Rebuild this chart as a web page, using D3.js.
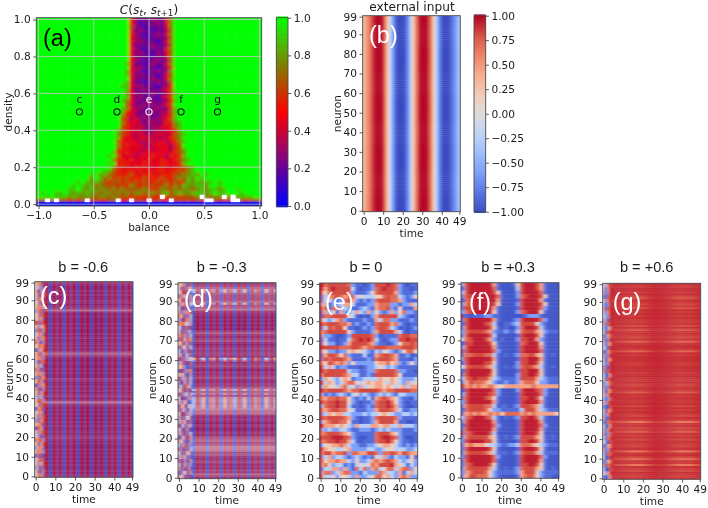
<!DOCTYPE html>
<html><head><meta charset="utf-8">
<script src="https://cdn.jsdelivr.net/npm/d3@7"></script>
<style>
html,body{margin:0;padding:0;background:#fff}
svg{display:block;filter:blur(0.35px)}
text{font-family:"DejaVu Sans";fill:#1c1c1c}
.tick text{font-size:10.6px}
.tick line{stroke:#333;stroke-width:.8}
.lab{font-size:10.6px;text-anchor:middle}
.cap{font-family:"Liberation Sans";font-size:14.6px;text-anchor:middle}
.big{font-family:"Liberation Sans";font-size:23.5px}
</style></head><body>
<svg id="c" width="708" height="508"></svg>
<script>
// ---------- panel (a): C(s_t, s_{t+1}); digit/9 = value, "." = no data; rows top (1.00) to bottom (0.00), centred on balance 0
const aRows=[
"9953222322579","9953122232479","9963212222479","9952322122369","9953212232479","9943221222369",
"9953322212479","9942222322369","9953212222579","9942322132469","9953221222479","9943222232369",
"9852212322479","9943322212359","9843212232379","9852322212469","9943222322479","9842212232369",
"8843322212359","9842232223469","9743222322358","9842322213469","8743223222358","9642232323469",
"8743322232358","985432223233689","975432322234589","965343232334689","975443233235478","965434323344578",
"98654433233344589","97654343334434678","98544344343345679","96544433434434578","97454443344443569",
"9965444434344435689","9854544344444445679","8964443444544354589","9755454445445445678","8945544454445544589",
"99975544545444544556789","98865455454545545565789","9989786655565455545556677879899","9979867565655565556556768798999",
"999898787656656565655656565687878898999","99989878676665657656565675768778879989999",
"999988987877767676666765676676776787887899899",
"989988987878776776767677677678678778887898899989999",
"989888787777677676665655655.56656667.7677.7.788899",
"66.6.665656.565566.55.565.5655.5656565..6565..65666",
"000000000000000000000000000000000000000000000000000"];
const aMarkLabels=["c","d","e","f","g"];
const aMarkX=[-0.63,-0.29,0,0.29,0.62];
const aMarkY=[0.5,0.5,0.5,0.5,0.5];
const aXTicks=[-1,-0.5,0,0.5,1];
const aYTicks=[0,0.2,0.4,0.6,0.8,1];
const aBarTicks=[0,0.2,0.4,0.6,0.8,1];
const bBarTicks=[-1,-0.75,-0.5,-0.25,0,0.25,0.5,0.75,1];
const timeTicks=[0,10,20,30,40,49];
const neuronTicks=[0,10,20,30,40,50,60,70,80,90,99];
// ---------- panel (b): external input per time step
const bInput=[.3,.45,.55,.65,.8,.9,1,1,1,1,.9,.65,.35,.05,-.3,-.6,-.8,-.95,-1,-1,-1,-.95,-.8,-.6,-.3,.1,.4,.65,.85,1,1,1,1,.9,.75,.5,.15,-.2,-.5,-.75,-.9,-1,-1,-1,-.95,-.85,-.75,-.65,-.5,-.35];
// ---------- panels (c),(d): stripe across time, per-row weakening (99 down to 0), early noise
const stripe=[0,0,0,0,0,1,1,-1,-1,1,1,-1,1,1,-1,-1,1,1,-1,1,1,-1,-1,1,1,-1,1,1,-1,-1,1,1,-1,1,1,-1,-1,1,1,-1,1,1,-1,-1,1,1,-1,1,1,-1];
const cLevels="2100101001"+"1012610100"+"0101001010"+"0101025310"+"0100101002"+"1001010120"+"2721010101"+"0101001012"+"1010010101"+"0101001011";
const cNoise="57681 46372 58163 57286 47761 56278 57684 36871 56278 46761 87278 57366 37826 46762 58376 76283 56867 27368 57726 57683 48277 57361 76282 58673 37276 57862 28376 67183 57268 47362 57873 56278 27682 46761 58377 37268 57682 28761 57378 46282 76873 57268 36762 58673 27281 46872 57368 36172 57283 46862";
const dLevels="2358743335"+"7346211010"+"1010242123"+"1012122194"+"1231021231"+"1224846378"+"8788756212"+"1021012134"+"5347763421"+"2312132531";
const dBeat=[0,0,0,0,0,.5,.8,1,1,.8,.4,-.2,-.7,-1,-.9,-.6,-.2,.3,.7,.9,.6,.2,-.3,-.8,-1,-.8,-.2,.3,.8,1,.7,.2,-.4,-.9,-1,-.7,-.2,.4,.8,1,.7,.1,-.5,-.9,-1,-.8,-.3,.3,.8,.9];
const dBeatRows=[96,95,89,61,60,45,43,41,40,39,38,37,36];
const dBeatAmps=[.3,.3,.4,.8,.2,.3,.2,.2,.25,.25,.25,.2,.2];
const dNoise="6573817 5287266 4698172 8375826 5782716 7367815 4918272 6273768 8582715 3719684 7686536 5392718 4827163 6783725 2794876 5682617 7164825 4293718 6381527 8172635 3682917 6573128 2917386 5748216 8263715 3916284 7428763 4681729 8273516 5192837 6384712 2758146 7163825 4892736 6271548 3684927 8152736 4729381 6381725 2947186 7538216 4168273 8392715 5271648 3684172 7293816 4816273 6172938 2835716 7461829";
// ---------- panel (e): 25 columns (2 steps each) by 50 rows (2 neurons each); first time step kept apart
const eGrid=[
"9788888732212388898732122","8689888842122378988732212","6578888732223578888632223","7467876774544455787743235","3453237863232378887763222",
"4623346642223367773323364","6727734322343267783252226","3635263346436353236357332","8778888542121368888843212","5434673222232264773322232",
"7788877623223278886732122","3487885221232378874312123","6788888532222368888642122","4332112388888731222278877","7422122478989742123388988",
"3533123688887632212357787","8888877788767788877778887","4533233565543243543235775","7688757322242267887622312","3878887622223278887622213",
"6587676353333356675632353","7464233222123345434322222","8788888433223378888733221","6888887644223288888752222","4654356523344446556543334",
"7465346775456566546543645","5655467453645566565456466","8788887677888887677888877","4232343245343234343244333","6677877532324267876532213",
"7788988532122378897532122","5788988422123278898632112","6678877542223368887642233","3465664433343445654334434","7788887632122378888732222",
"5678877522122368888622112","8666565436444665664464443","4343344322333234343332223","6788876532222278886532222","7889998732112278998732112",
"6788988642122278897532212","4556676433223345665432323","7655445633334433455444334","6886778377668873778768766","3463443234323254632433252",
"7566766435334676787643453","5753442324545768889654243","7446636327473674577467735","4773467733243337644362464","6445355436334577564367633"];
const eFirst="99919899199989199919899919199891999199899199989199";
// ---------- panel (f)
const fGrid=[
"6899999962111258999862111","3899999972111148999862111","5899999985111138999972111","6889999997211137899985111","2789999996111128999962111",
"5789999985111138999985111","7889999962111128999973111","3789999952111137899952111","2212223322111111233321111","6899999962111238999973111",
"2899998741122348888532111","5899999852121137999842111","3788887632232247888653222","5899999841111128999852111","6789998631211138899632111",
"2889999852111127899952111","5899999962111128999962111","3899999973111128999972111","6778887742121237788652121","7899999962111128899962111",
"3899998852111138899852111","5788887642121237887642121","2899999952111128899952111","6899999852111138899852111","5789888643222238888643222",
"4687776532232236777533222","7676766765566666667666666","2899999973111138999873111","4899999873111128999973111","6899998752111128899852111",
"3899999962111128999962111","5788887741221238887642111","2788887533222224888643222","6676766767577776767666665","3789998742121238899742111",
"5899999962111128999962111","2899999973111128999973111","6899999962111128999962111","3789999841111128999851111","5788888652121238888652121",
"2899998852111128899852111","6676665443223347776543222","3899999852111128999852111","5788887642221237888642222","2899999973111128999973111",
"6899999972111128999962111","3789999852111128899852111","5788888642121237888652121","2678887532222236888532222","5688777532111126787532211"];
const fFirst="31321123912131412913142131912131214121913121312131";
// ---------- panel (g)
const gLevels="1211213412"+"3241212122"+"1314212316"+"2112612111"+"2211121122"+"1321251212"+"2131212312"+"8213251213"+"1232182137"+"2281231221";
const gTime=[.3,.3,.3,.3,.3,.3,.35,.4,.45,.5,.55,.6,.7,.8,.9,1,1,1,1,1,.9,.8,.7,.55,.45,.35,.3,.25,.25,.25,.3,.3,.35,.4,.5,.6,.7,.8,.9,1,1,1,1,1,1,.9,.8,.65,.5,.4];
const gNoise="53698 41689 62389 31789 52698 40389 61789 42689 53389 36189 62789 41368 50789 32678 61389 42768 53289 30678 62389 41768 52389 37189 60789 42168 51789 33678 62389 40768 52689 41378 63789 32188 50768 41689 62289 31778 52168 40689 61378 42779 53188 31668 62379 41778 50289 32668 61779 42188 53679 31268";
const digitValues=[-1,-.95,-.85,-.6,-.25,.15,.45,.7,.82,.93];
const panelTitles=["b = -0.6","b = -0.3","b = 0","b = +0.3","b = +0.6"];
const panelLetters=["(c)","(d)","(e)","(f)","(g)"];

// ---------- colours
const brg=d3.scaleLinear().domain([0,.5,1]).range(["#0000ff","#ff0000","#00ff00"]).clamp(true);
const coolStops=["#3b4cc0","#5977e3","#7b9ff9","#9ebeff","#c0d4f5","#dddcdc","#f2cbb7","#f7ac8e","#ee8468","#d65244","#b40426"];
const cool=d3.scaleLinear().domain(d3.range(11).map(i=>-1+i*.2)).range(coolStops).clamp(true);

const svg=d3.select("#c");
const defs=svg.append("defs");
const blurIds={};
function blurFilter(sd){
 if(blurIds[sd])return blurIds[sd];
 const id="soft"+Object.keys(blurIds).length;
 defs.append("filter").attr("id",id).attr("filterUnits","userSpaceOnUse")
  .attr("x",0).attr("y",0).attr("width",708).attr("height",508)
  .append("feGaussianBlur").attr("stdDeviation",sd);
 return blurIds[sd]=id;
}
let clipN=0;
function heat(x,y,cells,color,sd,crisp){
 const [l,r]=x.range(),[b,t]=y.range();
 const id="clip"+(clipN++);
 defs.append("clipPath").attr("id",id).append("rect").attr("x",l).attr("y",t).attr("width",r-l).attr("height",b-t);
 const xd=x.domain(),yd=y.domain();
 const outer=svg.append("g").attr("clip-path",`url(#${id})`);
 const put=(g,data)=>g.selectAll("rect").data(data).join("rect")
  .attr("x",d=>x(d.x0)-(d.x0<=xd[0]?4:0))
  .attr("y",d=>y(d.y1)-(d.y1>=yd[1]?4:0))
  .attr("width",d=>x(d.x1)-x(d.x0)+.4+(d.x0<=xd[0]?4:0)+(d.x1>=xd[1]?4:0))
  .attr("height",d=>y(d.y0)-y(d.y1)+.4+(d.y1>=yd[1]?4:0)+(d.y0<=yd[0]?4:0))
  .attr("fill",d=>d.v===null?"#fff":color(d.v));
 const isCrisp=crisp||(()=>false);
 put(outer.append("g").attr("filter",`url(#${blurFilter(sd)})`),cells.filter(d=>d.v!==null));
 put(outer.append("g"),cells.filter(isCrisp));
}
function frame(x,y){
 const [l,r]=x.range(),[b,t]=y.range();
 svg.append("rect").attr("x",l).attr("y",t).attr("width",r-l).attr("height",b-t)
  .attr("fill","none").attr("stroke","#4a4a4a").attr("stroke-width",.9);
}
function axes(x,y,xv,yv,xf,yf){
 const [l]=x.range(),[b]=y.range();
 const ax=svg.append("g").attr("transform",`translate(0,${b})`)
  .call(d3.axisBottom(x).tickValues(xv).tickSize(3.2).tickPadding(2.6).tickFormat(xf));
 const ay=svg.append("g").attr("transform",`translate(${l},0)`)
  .call(d3.axisLeft(y).tickValues(yv).tickSize(3.2).tickPadding(2.4).tickFormat(yf));
 ax.select(".domain").remove();ay.select(".domain").remove();
}
function cbar(x0,x1,t,b,dom,color,ticks,fmt){
 const y=d3.scaleLinear().domain(dom).range([b,t]);
 const steps=d3.range(96).map(i=>dom[0]+(dom[1]-dom[0])*i/95);
 const h=(b-t)/95;
 svg.append("g").selectAll("rect").data(steps).join("rect")
  .attr("x",x0).attr("width",x1-x0).attr("y",d=>y(d)-h/2-.3).attr("height",h+.6).attr("fill",color);
 svg.append("rect").attr("x",x0).attr("y",t).attr("width",x1-x0).attr("height",b-t).attr("fill","none").attr("stroke","#4a4a4a").attr("stroke-width",.9);
 const a=svg.append("g").attr("transform",`translate(${x1},0)`).call(d3.axisRight(y).tickValues(ticks).tickSize(3.2).tickPadding(2.6).tickFormat(fmt));
 a.select(".domain").remove();
}
const lab=(t,x,y,rot)=>svg.append("text").attr("class","lab").attr("transform",`translate(${x},${y})`+(rot?" rotate(-90)":"")).text(t);
const minus=s=>s.replace("-","\u2212");
const f1=d=>minus(d3.format(".1f")(d));
const f2=d=>minus(d3.format(".2f")(d));
const plainTick=d=>String(d);

// ---------- (a)
{
 const x=d3.scaleLinear().domain([-1.02,1.02]).range([36.3,261.7]);
 const y=d3.scaleLinear().domain([-0.01,1.01]).range([206,17.7]);
 const cells=[];
 aRows.forEach((row,ri)=>{
  const off=Math.round((51-row.length)/2);
  d3.range(51).forEach(i=>{
   const ch=row[i-off];
   const v=ch===undefined?1:(ch==="."?null:+ch/9);
   const cx=-1+.04*i, cy=1-.02*ri;
   cells.push({x0:cx-.02,x1:cx+.02,y0:cy-.01,y1:cy+.01,v});
  });
 });
 heat(x,y,cells,brg,1.5,d=>d.v===null||d.y1<=.011);
 const grid=svg.append("g").attr("stroke","#c6c6c6").attr("stroke-width",.9).attr("opacity",.9);
 grid.selectAll(".gx").data(aXTicks).join("line").attr("x1",x).attr("x2",x).attr("y1",y(1.01)).attr("y2",y(-.01));
 grid.selectAll(".gy").data(aYTicks).join("line").attr("y1",y).attr("y2",y).attr("x1",x(-1.02)).attr("x2",x(1.02));
 frame(x,y);
 axes(x,y,aXTicks,aYTicks,f1,f1);
 cbar(276.3,288,17.7,206,[0,1],brg,aBarTicks,f1);
 const t=svg.append("text").attr("x",149).attr("y",13.5).attr("text-anchor","middle").attr("font-size",12.2);
 const sp=(s,it,sub)=>{const e=t.append("tspan").text(s);if(it)e.attr("font-style","italic");if(sub)e.attr("font-size",8.8).attr("dy",sub);};
 sp("C",1);sp("(");sp("s",1);sp("t",1,2);
 t.append("tspan").attr("dy",-2).text(", ");
 sp("s",1);sp("t",1,2);
 t.append("tspan").attr("font-size",8.8).text("+1");
 t.append("tspan").attr("dy",-2).text(")");
 lab("balance",149,231);lab("density",12,112,true);
 aMarkLabels.forEach((m,i)=>{
  const col=m==="e"?"#fff":"#111";
  svg.append("text").attr("x",x(aMarkX[i])).attr("y",y(aMarkY[i])-9).attr("text-anchor","middle").attr("font-size",10.6).style("fill",col).text(m);
  svg.append("circle").attr("cx",x(aMarkX[i])).attr("cy",y(aMarkY[i])).attr("r",3.1).attr("fill","none").attr("stroke",col).attr("stroke-width",1.1);
 });
 svg.append("text").attr("class","big").attr("x",43).attr("y",46).style("fill","#000").text("(a)");
}
function neuronPanel(l,r,t,b,cells,sd){
 const x=d3.scaleLinear().domain([-.5,49.5]).range([l,r]);
 const y=d3.scaleLinear().domain([-.5,99.5]).range([b,t]);
 heat(x,y,cells,cool,sd);
 frame(x,y);
 axes(x,y,timeTicks,neuronTicks,plainTick,plainTick);
 lab("time",(l+r)/2,b+25.5);lab("neuron",l-25.7+3.5,(t+b)/2,true);
}
const cell=(t,n,v,tw=1,nh=1)=>({x0:t-.5,x1:t-.5+tw,y0:n-.5,y1:n-.5+nh,v});
const noise=s=>s.split(" ");
const dig=c=>digitValues[+c];
// ---------- (b)
{
 const cells=[];d3.range(100).forEach(n=>bInput.forEach((v,t)=>cells.push(cell(t,n,v))));
 neuronPanel(362.7,460.3,15.7,211.7,cells,"0.9 0.5");
 cbar(474,485.7,15.7,211.7,[-1,1],cool,bBarTicks,f2);
 svg.append("text").attr("x",412).attr("y",11).attr("text-anchor","middle").attr("font-size",12.2).text("external input");
 svg.append("text").attr("class","big").attr("x",369).attr("y",43).style("fill","#fff").text("(b)");
}
// ---------- (c)-(g)
function addNoise(cells,n){
 n.forEach((tok,ri)=>{const r=98-2*ri;[...tok].forEach((ch,ti)=>cells.push(cell(ti,r,dig(ch),1,2)));});
}
const panels=[];
{ const cs=[];addNoise(cs,noise(cNoise));
  d3.range(100).forEach(n=>{const k=1-(+cLevels[99-n])*.045;d3.range(5,50).forEach(t=>cs.push(cell(t,n,stripe[t]*k)));});
  panels.push({l:34.7,r:133,t:281.7,b:477.3,cx:83.3,cells:cs,lx:40,ly:304,sd:"1.05 0.6"});
}
{ const cs=[];addNoise(cs,noise(dNoise));
  d3.range(100).forEach(n=>{const k=1-(+dLevels[99-n])*.05;const bi=dBeatRows.indexOf(n);const ba=bi<0?0:dBeatAmps[bi];
   d3.range(7,50).forEach(t=>cs.push(cell(t,n,stripe[t]*k+dBeat[t]*ba)));});
  panels.push({l:178,r:276,t:282.7,b:478.7,cx:221.7,cells:cs,lx:184,ly:307,sd:"1.05 0.6"});
}
{ const cs=[];eGrid.forEach((row,ri)=>[...row].forEach((ch,ci)=>cs.push(cell(ci*2,98-2*ri,dig(ch),2,2))));
  [...eFirst].forEach((ch,ri)=>cs.push(cell(0,98-2*ri,dig(ch),1,2)));
  panels.push({l:319.7,r:417.7,t:283,b:478.7,cx:366,cells:cs,lx:325,ly:310,sd:"1.3 0.7"});
}
{ const cs=[];fGrid.forEach((row,ri)=>[...row].forEach((ch,ci)=>cs.push(cell(ci*2,98-2*ri,dig(ch),2,2))));
  [...fFirst].forEach((ch,ri)=>cs.push(cell(0,98-2*ri,dig(ch),1,2)));
  panels.push({l:461,r:559,t:282.7,b:478.3,cx:508,cells:cs,lx:469,ly:310,sd:"1.5 0.7"});
}
{ const cs=[];addNoise(cs,noise(gNoise));
  d3.range(100).forEach(n=>{const lv=+gLevels[99-n];d3.range(5,50).forEach(t=>cs.push(cell(t,n,.92-lv*.035*gTime[t])));});
  panels.push({l:602.7,r:700.7,t:283.3,b:479.3,cx:646.7,cells:cs,lx:612.7,ly:310,sd:"0.85 0.6"});
}
panels.forEach((p,i)=>{
 neuronPanel(p.l,p.r,p.t,p.b,p.cells,p.sd);
 svg.append("text").attr("class","cap").attr("x",p.cx).attr("y",272).text(panelTitles[i]);
 svg.append("text").attr("class","big").attr("x",p.lx).attr("y",p.ly).style("fill","#fff").text(panelLetters[i]);
});
</script>
</body></html>
